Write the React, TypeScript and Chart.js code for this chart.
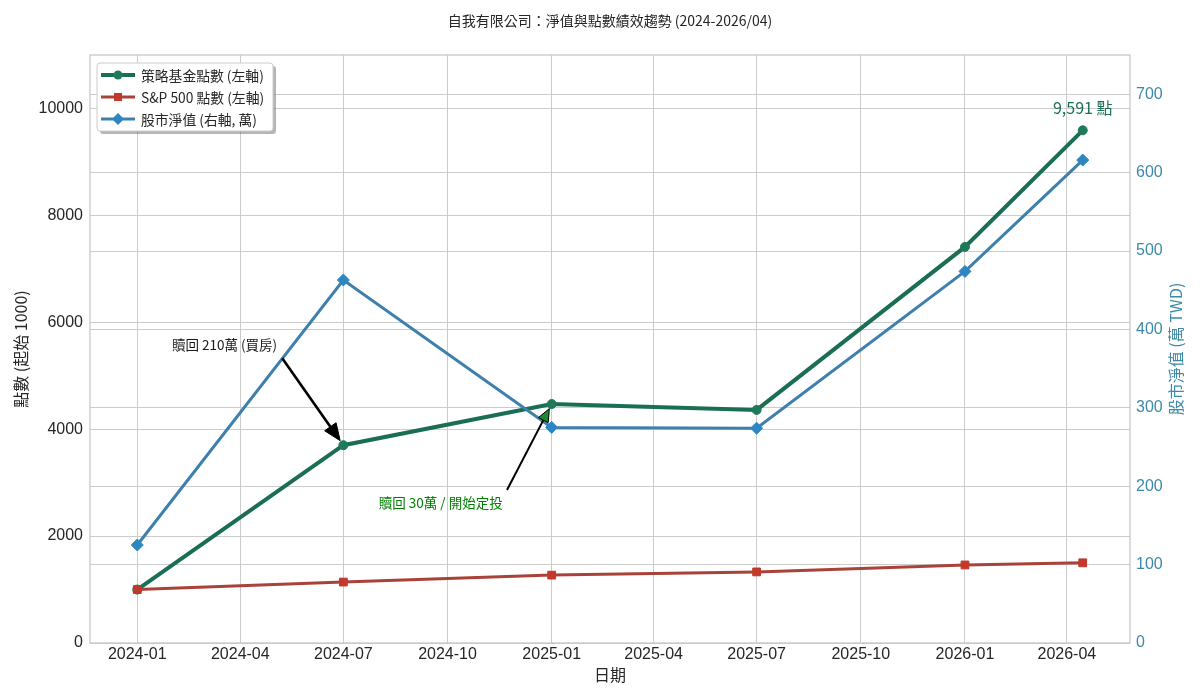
import React, { useEffect, useRef } from 'react';
import { Chart, registerables } from 'chart.js';

Chart.register(...registerables);

// ---------------- data ----------------
const chartTitle = '自我有限公司：淨值與點數績效趨勢 (2024-2026/04)';
const dates = ['2024-01-01', '2024-07-01', '2025-01-01', '2025-07-01', '2026-01-01', '2026-04-15'];
const fundPoints = [1000, 3700, 4470, 4360, 7410, 9591];
const sp500Points = [1000, 1140, 1270, 1330, 1460, 1500];
const netValueWan = [125, 463, 275, 274, 474, 616];
const seriesNames = ['策略基金點數 (左軸)', 'S&P 500 點數 (左軸)', '股市淨值 (右軸, 萬)'];

const xTickDates = [
  '2024-01-01', '2024-04-01', '2024-07-01', '2024-10-01', '2025-01-01',
  '2025-04-01', '2025-07-01', '2025-10-01', '2026-01-01', '2026-04-01',
];
const xTickLabels = [
  '2024-01', '2024-04', '2024-07', '2024-10', '2025-01',
  '2025-04', '2025-07', '2025-10', '2026-01', '2026-04',
];
const leftTicks = [0, 2000, 4000, 6000, 8000, 10000];
const rightTicks = [0, 100, 200, 300, 400, 500, 600, 700];
const leftMax = 11000;
const rightMax = 750;

const xLabel = '日期';
const yLeftLabel = '點數 (起始 1000)';
const yRightLabel = '股市淨值 (萬 TWD)';

const noteTexts = ['贖回 210萬 (買房)', '贖回 30萬 / 開始定投'];
const noteTextDates = ['2024-03-18', '2024-09-25'];
const noteTextValues = [5570, 2620];
const noteTargetIndex = [1, 2];
const lastUnit = '點';

// ---------------- styles ----------------
const CJK = '"Noto Sans CJK TC", "Noto Sans CJK SC", "Noto Sans", sans-serif';
const NUM = '"Liberation Sans", Arial, "Noto Sans CJK TC", sans-serif';
const GREEN_LINE = '#1b6e56';
const GREEN_MARK = '#1f7a5c';
const RED_LINE = '#a9433a';
const RED_MARK = '#c0392b';
const BLUE_LINE = '#3e80ad';
const BLUE_MARK = '#2e86c1';
const RIGHT_COLOR = '#3d8aa8';
const TEXT = '#262626';
const GRID = '#cccccc';

const dayMs = 86400000;
const t0 = Date.parse(dates[0] + 'T00:00:00Z');
const dayOf = (s: string) => (Date.parse(s + 'T00:00:00Z') - t0) / dayMs;

export default function App() {
  const ref = useRef<HTMLCanvasElement | null>(null);

  useEffect(() => {
    document.body.style.margin = '0';
    const canvas = ref.current;
    if (!canvas) return;

    const xs = dates.map(dayOf);
    const span = xs[xs.length - 1] - xs[0];
    const xMin = xs[0] - span * 0.05;
    const xMax = xs[xs.length - 1] + span * 0.05;
    const tickDays = xTickDates.map(dayOf);

    const mk = (vals: number[]) => vals.map((v, i) => ({ x: xs[i], y: v }));

    const drawArrow = (
      ctx: CanvasRenderingContext2D,
      sx: number, sy: number, ex: number, ey: number,
      headLen: number, headW: number, shaftW: number,
      fill: string, shaftColor: string
    ) => {
      const dx = ex - sx, dy = ey - sy;
      const len = Math.hypot(dx, dy);
      const ux = dx / len, uy = dy / len;
      const bx = ex - ux * headLen, by = ey - uy * headLen;
      ctx.save();
      ctx.strokeStyle = shaftColor;
      ctx.lineWidth = shaftW;
      ctx.beginPath();
      ctx.moveTo(sx, sy);
      ctx.lineTo(bx, by);
      ctx.stroke();
      ctx.beginPath();
      ctx.moveTo(ex, ey);
      ctx.lineTo(bx - uy * headW / 2, by + ux * headW / 2);
      ctx.lineTo(bx + uy * headW / 2, by - ux * headW / 2);
      ctx.closePath();
      ctx.fillStyle = fill;
      ctx.fill();
      ctx.lineWidth = 1;
      ctx.strokeStyle = '#000';
      ctx.stroke();
      ctx.restore();
    };

    const decor = {
      id: 'decor',
      beforeDatasetsDraw(chart: any) {
        const { ctx, chartArea: a } = chart;
        ctx.save();
        ctx.strokeStyle = '#c8c8c8';
        ctx.lineWidth = 1.3;
        ctx.strokeRect(a.left, a.top, a.right - a.left, a.bottom - a.top);
        ctx.restore();
      },
      afterDatasetsDraw(chart: any) {
        const { ctx } = chart;
        const sx = chart.scales.x, sy = chart.scales.y;
        noteTexts.forEach((txt, i) => {
          const cx = sx.getPixelForValue(dayOf(noteTextDates[i]));
          const cy = sy.getPixelForValue(noteTextValues[i]);
          const ti = noteTargetIndex[i];
          const tx = sx.getPixelForValue(xs[ti]);
          const ty = sy.getPixelForValue(fundPoints[ti]);
          ctx.save();
          ctx.font = `13.5px ${CJK}`;
          ctx.fillStyle = i === 0 ? '#1a1a1a' : '#008000';
          ctx.textAlign = 'center';
          ctx.textBaseline = 'middle';
          ctx.fillText(txt, cx, cy);
          const w = ctx.measureText(txt).width;
          ctx.restore();
          const h = 17;
          let ax = cx, ay = cy;
          if (tx > cx + w / 2) ax = cx + w / 2 + 2; else if (tx < cx - w / 2) ax = cx - w / 2 - 2;
          if (ty > cy + h / 2) ay = cy + h / 2; else if (ty < cy - h / 2) ay = cy - h / 2;
          const L = Math.hypot(tx - ax, ty - ay);
          const ux = (tx - ax) / L, uy = (ty - ay) / L;
          const sh = L * 0.05;
          if (i === 0) {
            drawArrow(ctx, ax + ux * sh, ay + uy * sh, tx - ux * sh, ty - uy * sh, 17, 14, 2.6, '#000', '#000');
          } else {
            drawArrow(ctx, ax + ux * sh, ay + uy * sh, tx - ux * sh, ty - uy * sh, 13, 11, 2, '#1f8a2a', '#000');
          }
        });
        const li = fundPoints.length - 1;
        const lx = sx.getPixelForValue(xs[li]);
        const ly = sy.getPixelForValue(fundPoints[li]);
        ctx.save();
        ctx.font = `16px ${CJK}`;
        ctx.fillStyle = GREEN_LINE;
        ctx.textAlign = 'center';
        ctx.textBaseline = 'middle';
        ctx.fillText(`${fundPoints[li].toLocaleString('en-US')} ${lastUnit}`, lx, ly - 22);
        ctx.restore();
      },
      afterDraw(chart: any) {
        const { ctx, chartArea: a } = chart;
        ctx.save();
        ctx.font = `14px ${CJK}`;
        ctx.fillStyle = TEXT;
        ctx.textAlign = 'center';
        ctx.textBaseline = 'middle';
        ctx.fillText(chartTitle, (a.left + a.right) / 2, 21);
        ctx.font = `16px ${CJK}`;
        ctx.fillText(xLabel, (a.left + a.right) / 2, 675);
        const midY = (a.top + a.bottom) / 2;
        ctx.save();
        ctx.translate(21, midY);
        ctx.rotate(-Math.PI / 2);
        ctx.fillText(yLeftLabel, 0, 0);
        ctx.restore();
        ctx.save();
        ctx.translate(1176, midY);
        ctx.rotate(-Math.PI / 2);
        ctx.fillStyle = RIGHT_COLOR;
        ctx.fillText(yRightLabel, 0, 0);
        ctx.restore();

        const lx = 97, ly = 63, lw = 176, lh = 68;
        const rr = (x: number, y: number, w: number, h: number, r: number) => {
          ctx.beginPath();
          ctx.moveTo(x + r, y);
          ctx.lineTo(x + w - r, y);
          ctx.arcTo(x + w, y, x + w, y + r, r);
          ctx.lineTo(x + w, y + h - r);
          ctx.arcTo(x + w, y + h, x + w - r, y + h, r);
          ctx.lineTo(x + r, y + h);
          ctx.arcTo(x, y + h, x, y + h - r, r);
          ctx.lineTo(x, y + r);
          ctx.arcTo(x, y, x + r, y, r);
          ctx.closePath();
        };
        rr(lx + 3, ly + 3, lw, lh, 3);
        ctx.fillStyle = 'rgba(120,120,120,0.55)';
        ctx.fill();
        rr(lx, ly, lw, lh, 3);
        ctx.fillStyle = '#ffffff';
        ctx.fill();
        ctx.strokeStyle = '#cccccc';
        ctx.lineWidth = 1;
        ctx.stroke();

        const ds = chart.data.datasets;
        [0, 1, 2].forEach((di, row) => {
          const d = ds[di];
          const y = ly + 12 + row * 22;
          ctx.strokeStyle = d.borderColor;
          ctx.lineWidth = d.borderWidth;
          ctx.beginPath();
          ctx.moveTo(lx + 4, y);
          ctx.lineTo(lx + 38, y);
          ctx.stroke();
          ctx.fillStyle = d.pointBackgroundColor;
          const mx = lx + 21;
          if (d.pointStyle === 'circle') {
            ctx.beginPath();
            ctx.arc(mx, y, 4.5, 0, Math.PI * 2);
            ctx.fill();
          } else if (d.pointStyle === 'rect') {
            ctx.fillRect(mx - 4, y - 4, 8, 8);
          } else {
            ctx.beginPath();
            ctx.moveTo(mx, y - 6);
            ctx.lineTo(mx + 6, y);
            ctx.lineTo(mx, y + 6);
            ctx.lineTo(mx - 6, y);
            ctx.closePath();
            ctx.fill();
          }
          ctx.fillStyle = TEXT;
          ctx.font = `13.8px ${CJK}`;
          ctx.textAlign = 'left';
          ctx.textBaseline = 'middle';
          ctx.fillText(seriesNames[di], lx + 44, y + 1);
        });
        ctx.restore();
      },
    };

    const chart = new Chart(canvas, {
      type: 'line',
      data: {
        datasets: [
          {
            label: seriesNames[0],
            data: mk(fundPoints),
            yAxisID: 'y',
            borderColor: GREEN_LINE,
            borderWidth: 4,
            pointStyle: 'circle',
            pointRadius: 4.5,
            pointBackgroundColor: GREEN_MARK,
            pointBorderColor: GREEN_MARK,
            pointBorderWidth: 1,
            tension: 0,
            order: 2,
          },
          {
            label: seriesNames[1],
            data: mk(sp500Points),
            yAxisID: 'y',
            borderColor: RED_LINE,
            borderWidth: 3,
            pointStyle: 'rect',
            pointRadius: 5.5,
            pointBackgroundColor: RED_MARK,
            pointBorderColor: RED_MARK,
            pointBorderWidth: 1,
            tension: 0,
            order: 1,
          },
          {
            label: seriesNames[2],
            data: mk(netValueWan),
            yAxisID: 'y1',
            borderColor: BLUE_LINE,
            borderWidth: 3,
            pointStyle: 'rectRot',
            pointRadius: 6,
            pointBackgroundColor: BLUE_MARK,
            pointBorderColor: BLUE_MARK,
            pointBorderWidth: 1,
            tension: 0,
            order: 0,
          },
        ] as any,
      },
      options: {
        animation: false,
        responsive: true,
        maintainAspectRatio: false,
        layout: { padding: { top: 55, left: 0, right: 0, bottom: 0 } },
        plugins: {
          legend: { display: false },
          title: { display: false },
          tooltip: { enabled: false },
        },
        scales: {
          x: {
            type: 'linear',
            min: xMin,
            max: xMax,
            afterBuildTicks: (s: any) => { s.ticks = tickDays.map((v) => ({ value: v })); },
            afterFit: (s: any) => { s.height = 57; },
            ticks: {
              autoSkip: false,
              maxRotation: 0,
              padding: 2,
              color: TEXT,
              font: { family: NUM, size: 16 },
              callback: (_v: any, i: number) => xTickLabels[i],
            },
            grid: { color: GRID, lineWidth: 1, drawTicks: false },
            border: { display: false },
          },
          y: {
            type: 'linear',
            position: 'left',
            min: 0,
            max: leftMax,
            afterBuildTicks: (s: any) => { s.ticks = leftTicks.map((v) => ({ value: v })); },
            afterFit: (s: any) => { s.width = 90; },
            ticks: {
              padding: 7,
              color: TEXT,
              font: { family: NUM, size: 16 },
              callback: (v: any) => String(v),
            },
            grid: { color: GRID, lineWidth: 1, drawTicks: false },
            border: { display: false },
          },
          y1: {
            type: 'linear',
            position: 'right',
            min: 0,
            max: rightMax,
            afterBuildTicks: (s: any) => { s.ticks = rightTicks.map((v) => ({ value: v })); },
            afterFit: (s: any) => { s.width = 70; },
            ticks: {
              padding: 6,
              color: RIGHT_COLOR,
              font: { family: NUM, size: 16 },
              callback: (v: any) => String(v),
            },
            grid: { color: GRID, lineWidth: 1, drawTicks: false },
            border: { display: false },
          },
        },
      } as any,
      plugins: [decor],
    });

    return () => chart.destroy();
  }, []);

  return (
    <div style={{ position: 'relative', width: 1200, height: 700 }}>
      <canvas ref={ref} />
    </div>
  );
}
